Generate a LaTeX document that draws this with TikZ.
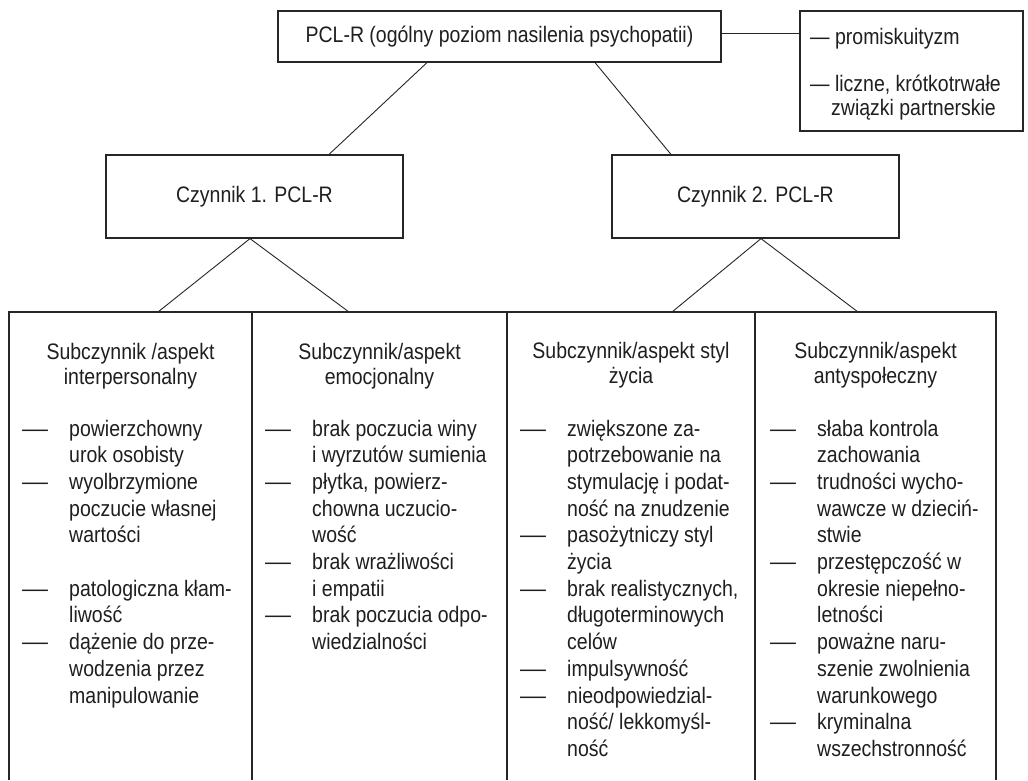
\documentclass[tikz,border=0pt]{standalone}
\usepackage{fontspec}
\setmainfont{Liberation Sans}[FakeStretch=0.87]
\usepackage{graphicx}
\usepackage{array}
\definecolor{tc}{rgb}{0.12,0.12,0.12}
\definecolor{lc}{rgb}{0.15,0.15,0.15}
\newcommand{\dsh}{\scalebox{1.33}[1]{—}}
\newcommand{\itemlist}[1]{\begin{tabular}[t]{@{}p{47pt}@{}l@{}}#1\end{tabular}}
\newcommand{\headlist}[1]{\begin{tabular}[t]{@{}c@{}}#1\end{tabular}}
\begin{document}
\begin{tikzpicture}[x=1pt,y=-1pt,
  box/.style={draw=lc, line width=1.2pt, inner sep=0pt, text=tc,
    font=\fontsize{22.4}{26.7}\selectfont},
  frame/.style={inner sep=0pt, outer sep=0pt},
  edge/.style={draw=lc, line width=1.2pt},
  conn/.style={draw=lc, line width=0.9pt},
  lbl/.style={inner sep=0pt, text=tc, font=\fontsize{22.4}{26.7}\selectfont},
  hlbl/.style={inner sep=0pt, text=tc, font=\fontsize{22.4}{25}\selectfont, anchor=base},
  ilbl/.style={inner sep=0pt, text=tc, font=\fontsize{22.4}{26.7}\selectfont, anchor=base west}]
\useasboundingbox (0,0) rectangle (1028,780);
\fill[white] (0,0) rectangle (1028,780);

% top level
\node[box, minimum width=443pt, minimum height=51pt] (top) at (499.5,36.5)
  {PCL-R (ogólny poziom nasilenia psychopatii)};
\node[box, minimum width=223pt, minimum height=120pt] (rbox) at (911.5,71) {};
\node[lbl, anchor=base west, font=\fontsize{22.4}{24}\selectfont] (rtext) at (810,44)
  {\begin{tabular}[t]{@{}l@{}}— promiskuityzm\\[23pt]— liczne, krótkotrwałe\\\hspace*{21pt}związki partnerskie\end{tabular}};
\draw[conn] ([yshift=3.5pt]top.east) -- ([yshift=3.5pt]top.east -| rbox.west);

% factors
\node[box, minimum width=297pt, minimum height=83pt] (c1) at (254.5,196.5) {Czynnik 1. PCL-R};
\node[box, minimum width=287pt, minimum height=83pt] (c2) at (755.5,196.5) {Czynnik 2. PCL-R};
\draw[conn] ([xshift=-72.5pt]top.south) -- ([xshift=74.5pt]c1.north);
\draw[conn] ([xshift=95.5pt]top.south) -- ([xshift=-84.5pt]c2.north);

% bottom columns
\node[frame, minimum width=243pt, minimum height=468pt] (col1) at (130.5,546) {};
\node[frame, minimum width=255pt, minimum height=468pt] (col2) at (379.5,546) {};
\node[frame, minimum width=248pt, minimum height=468pt] (col3) at (631,546) {};
\node[frame, minimum width=241pt, minimum height=468pt] (col4) at (875.5,546) {};
\foreach \c in {col1,col2,col3,col4}
  \draw[edge] (\c.south west) -- (\c.north west) -- (\c.north east) -- (\c.south east);

\draw[conn] ([xshift=-4.5pt]c1.south) -- ([xshift=27.5pt]col1.north);
\draw[conn] ([xshift=-4.5pt]c1.south) -- ([xshift=-30.5pt]col2.north);
\draw[conn] ([xshift=5.5pt]c2.south) -- ([xshift=41pt]col3.north);
\draw[conn] ([xshift=5.5pt]c2.south) -- ([xshift=-17.5pt]col4.north);

% headings
\node[hlbl] (h1) at (130.5,359) {\headlist{Subczynnik /aspekt\\interpersonalny}};
\node[hlbl] (h2) at (379.5,359) {\headlist{Subczynnik/aspekt\\emocjonalny}};
\node[hlbl] (h3) at (631,358) {\headlist{Subczynnik/aspekt styl\\życia}};
\node[hlbl] (h4) at (875.5,358) {\headlist{Subczynnik/aspekt\\antyspołeczny}};

% items
\node[ilbl] (i1) at (22,436) {\itemlist{%
\dsh & powierzchowny\\
 & urok osobisty\\
\dsh & wyolbrzymione\\
 & poczucie własnej\\
 & wartości\\
 & \\
\dsh & patologiczna kłam-\\
 & liwość\\
\dsh & dążenie do prze-\\
 & wodzenia przez\\
 & manipulowanie}};

\node[ilbl] (i2) at (265,436) {\itemlist{%
\dsh & brak poczucia winy\\
 & i wyrzutów sumienia\\
\dsh & płytka, powierz-\\
 & chowna uczucio-\\
 & wość\\
\dsh & brak wrażliwości\\
 & i empatii\\
\dsh & brak poczucia odpo-\\
 & wiedzialności}};

\node[ilbl] (i3) at (520,436) {\itemlist{%
\dsh & zwiększone za-\\
 & potrzebowanie na\\
 & stymulację i podat-\\
 & ność na znudzenie\\
\dsh & pasożytniczy styl\\
 & życia\\
\dsh & brak realistycznych,\\
 & długoterminowych\\
 & celów\\
\dsh & impulsywność\\
\dsh & nieodpowiedzial-\\
 & ność/ lekkomyśl-\\
 & ność}};

\node[ilbl] (i4) at (770,436) {\itemlist{%
\dsh & słaba kontrola\\
 & zachowania\\
\dsh & trudności wycho-\\
 & wawcze w dzieciń-\\
 & stwie\\
\dsh & przestępczość w\\
 & okresie niepełno-\\
 & letności\\
\dsh & poważne naru-\\
 & szenie zwolnienia\\
 & warunkowego\\
\dsh & kryminalna\\
 & wszechstronność}};
\end{tikzpicture}
\end{document}
